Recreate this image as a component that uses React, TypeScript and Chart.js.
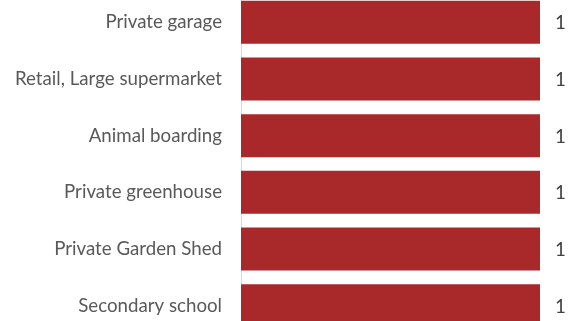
import React, { useEffect, useRef } from "react";
import { Chart, registerables } from "chart.js";

Chart.register(...registerables);

const categories = [
  "Private garage",
  "Retail, Large supermarket",
  "Animal boarding",
  "Private greenhouse",
  "Private Garden Shed",
  "Secondary school",
];
const values = [1, 1, 1, 1, 1, 1];

const FONT = "Lato, 'Open Sans', sans-serif";
const FONT_SIZE = 18.7;

const valueLabels = {
  id: "valueLabels",
  afterDatasetsDraw(chart: any) {
    const ctx = chart.ctx;
    const meta = chart.getDatasetMeta(0);
    ctx.save();
    ctx.font = `${FONT_SIZE}px ${FONT}`;
    ctx.fillStyle = "#404040";
    ctx.textAlign = "left";
    ctx.textBaseline = "middle";
    meta.data.forEach((bar: any, i: number) => {
      ctx.fillText(String(values[i]), bar.x + 15, bar.y + 1);
    });
    ctx.restore();
  },
};

export default function App() {
  const ref = useRef<HTMLCanvasElement | null>(null);
  useEffect(() => {
    if (!ref.current) return;
    const chart = new Chart(ref.current, {
      type: "bar",
      data: {
        labels: categories,
        datasets: [
          {
            data: values,
            backgroundColor: "#A9292B",
            borderWidth: 0,
            categoryPercentage: 1,
            barPercentage: 0.758,
          },
        ],
      },
      options: {
        indexAxis: "y",
        animation: false,
        responsive: true,
        maintainAspectRatio: false,
        layout: { padding: { left: 0, right: 32, top: 0, bottom: 0 } },
        plugins: { legend: { display: false }, tooltip: { enabled: false } },
        scales: {
          x: { display: false, min: 0, max: 1 },
          y: {
            afterFit: (s: any) => {
              s.width = 241;
              s.paddingTop = 0;
              s.paddingBottom = 0;
            },
            grid: { display: false, drawTicks: false },
            border: { display: true, color: "#D9D9D9", width: 1 },
            ticks: {
              padding: 19,
              color: "#595959",
              font: { family: FONT, size: FONT_SIZE },
            },
          },
        },
      },
      plugins: [valueLabels],
    });
    return () => chart.destroy();
  }, []);
  return (
    <div style={{ position: "fixed", inset: 0, overflow: "hidden", background: "#fff" }}>
      <div style={{ position: "absolute", left: 0, top: -6, width: 572, height: 340 }}>
        <canvas ref={ref} />
      </div>
    </div>
  );
}
